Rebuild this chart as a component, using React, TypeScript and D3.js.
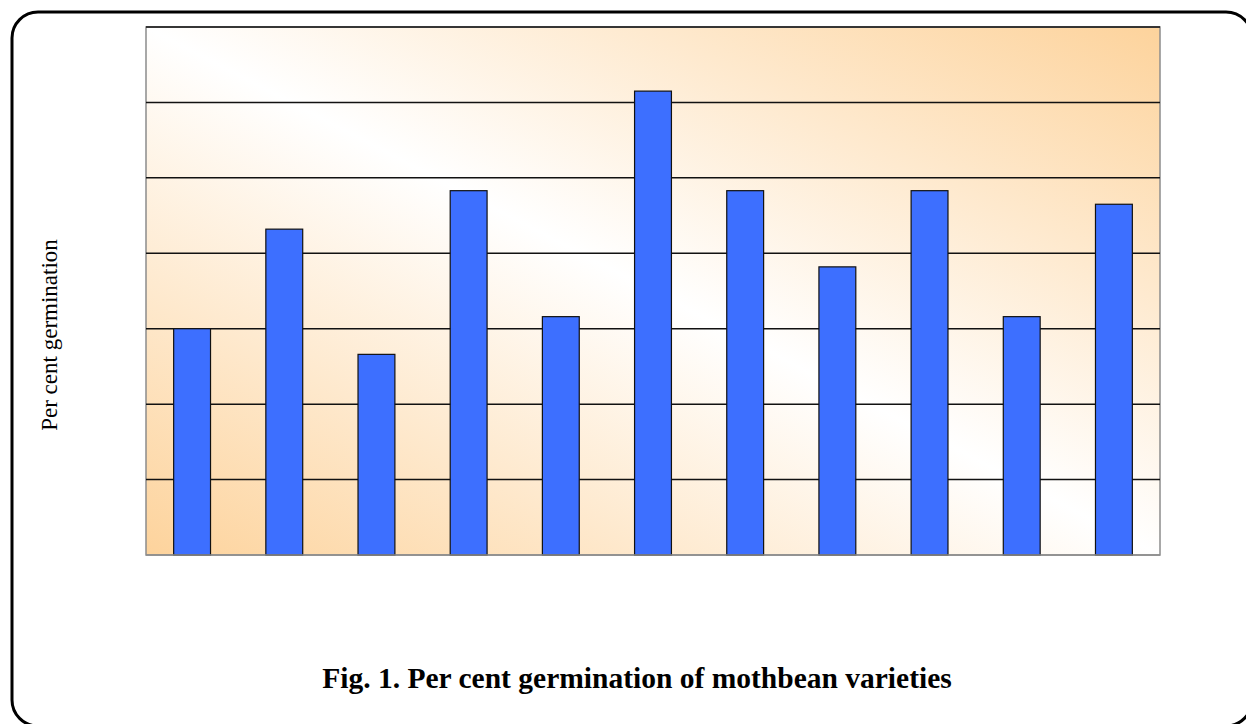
import React, { useEffect, useRef } from 'react';
import * as d3 from 'd3';

// varieties are not labelled in the figure
const varieties = ['V1', 'V2', 'V3', 'V4', 'V5', 'V6', 'V7', 'V8', 'V9', 'V10', 'V11'];
const germination = [30, 43.2, 26.6, 48.3, 31.6, 61.5, 48.3, 38.2, 48.3, 31.6, 46.5];
const gridValues = [0, 10, 20, 30, 40, 50, 60, 70];

const W = 1246;
const H = 724;

export default function App() {
  const ref = useRef<SVGSVGElement>(null);

  useEffect(() => {
    const svg = d3.select(ref.current);
    svg.selectAll('*').remove();

    const left = 146, right = 1160, top = 27, bottom = 555;

    const defs = svg.append('defs');
    const grad = defs.append('linearGradient')
      .attr('id', 'bg')
      .attr('x1', '0%').attr('y1', '100%')
      .attr('x2', '100%').attr('y2', '0%');
    grad.append('stop').attr('offset', '0%').attr('stop-color', '#fdd39c');
    grad.append('stop').attr('offset', '50%').attr('stop-color', '#ffffff');
    grad.append('stop').attr('offset', '100%').attr('stop-color', '#fdd39c');

    // outer frame, runs off the right and bottom edges
    svg.append('rect')
      .attr('x', 12).attr('y', 12)
      .attr('width', 1240).attr('height', 714)
      .attr('rx', 26).attr('ry', 26)
      .attr('fill', 'white')
      .attr('stroke', '#000')
      .attr('stroke-width', 3);

    const xscale = d3.scaleBand()
      .domain(varieties)
      .range([left, right])
      .paddingInner(0.6)
      .paddingOuter(0.3);

    const yscale = d3.scaleLinear()
      .domain([0, 70])
      .range([bottom, top]);

    svg.append('rect')
      .attr('x', left).attr('y', top)
      .attr('width', right - left).attr('height', bottom - top)
      .attr('fill', 'url(#bg)')
      .attr('stroke', '#8c8c8c')
      .attr('stroke-width', 1.5);

    svg.append('g')
      .selectAll('line')
      .data(gridValues.slice(1))
      .enter()
      .append('line')
        .attr('x1', left).attr('x2', right)
        .attr('y1', d => yscale(d)).attr('y2', d => yscale(d))
        .attr('stroke', '#111')
        .attr('stroke-width', 1.5);

    svg.append('g')
      .selectAll('rect')
      .data(germination)
      .enter()
      .append('rect')
        .attr('x', (d, i) => xscale(varieties[i]) as number)
        .attr('y', d => yscale(d))
        .attr('width', xscale.bandwidth())
        .attr('height', d => bottom - yscale(d))
        .attr('fill', '#3d6fff')
        .attr('stroke', '#111')
        .attr('stroke-width', 1.2);

    svg.append('line')
      .attr('x1', left).attr('x2', right)
      .attr('y1', bottom).attr('y2', bottom)
      .attr('stroke', '#8c8c8c')
      .attr('stroke-width', 1.5);

    svg.append('text')
      .attr('transform', 'translate(57,335) rotate(-90)')
      .attr('text-anchor', 'middle')
      .attr('font-family', '"Liberation Serif", "Times New Roman", serif')
      .attr('font-size', 23)
      .text('Per cent germination');

    svg.append('text')
      .attr('x', 637).attr('y', 688)
      .attr('text-anchor', 'middle')
      .attr('font-family', '"Liberation Serif", "Times New Roman", serif')
      .attr('font-weight', 'bold')
      .attr('font-size', 29.5)
      .text('Fig. 1. Per cent germination of mothbean varieties');
  }, []);

  return (
    <svg ref={ref} width={W} height={H} style={{ position: 'absolute', left: 0, top: 0 }} />
  );
}
